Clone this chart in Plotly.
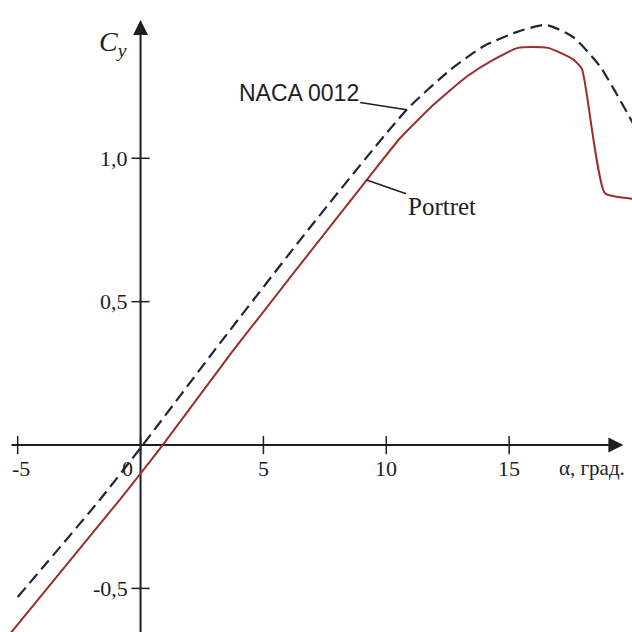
import plotly.graph_objects as go

# ---- data ----
alpha_naca = [-5.0, -1.65, 0.0, 3.24, 7.0, 10.83, 12.6, 13.94, 15.3, 16.5, 17.6, 18.7, 19.9, 20.3]
cy_naca = [-0.53, -0.19, -0.01, 0.356, 0.77, 1.169, 1.308, 1.39, 1.44, 1.465, 1.423, 1.32, 1.144, 1.08]

alpha_portret = [-5.9, -0.84, 0.9, 3.77, 9.2, 10.56, 11.9, 13.28, 14.35, 15.36, 16.58, 17.6, 17.96, 18.9, 19.92, 20.3]
cy_portret = [-0.72, -0.19, 0.0, 0.33, 0.924, 1.07, 1.185, 1.285, 1.343, 1.385, 1.385, 1.345, 1.312, 0.878, 0.86, 0.855]

x_ticks = [-5, 0, 5, 10, 15]
x_tick_labels = ["-5", "0", "5", "10", "15"]
y_ticks = [1.0, 0.5, -0.5]
y_tick_labels = ["1,0", "0,5", "-0,5"]

# view window and axis extents
x_range = [-5.72, 20.0]
y_range = [-0.652, 1.552]
x_axis_span = [-5.25, 19.65]   # x axis line start / arrow tip
y_axis_span = [-0.70, 1.482]   # y axis line start / arrow tip

serif = "Liberation Serif, Times New Roman, serif"
sans = "Liberation Sans, Arial, sans-serif"
ink = "#1e1e1e"

fig = go.Figure()

# axes (lines crossing at the origin) with arrow heads
fig.add_trace(go.Scatter(
    x=[x_axis_span[0], x_axis_span[1] - 0.3], y=[0, 0], mode="lines",
    line=dict(color=ink, width=2), hoverinfo="skip", showlegend=False, cliponaxis=False,
))
fig.add_trace(go.Scatter(
    x=[0, 0], y=[y_axis_span[0], y_axis_span[1] - 0.03], mode="lines",
    line=dict(color=ink, width=2), hoverinfo="skip", showlegend=False,
))
fig.add_trace(go.Scatter(
    x=[x_axis_span[1], 0], y=[0, y_axis_span[1]], mode="markers",
    marker=dict(symbol=["arrow-right", "arrow-up"], size=15, color=ink, line=dict(width=0)),
    hoverinfo="skip", showlegend=False, cliponaxis=False,
))

fig.add_trace(go.Scatter(
    x=alpha_naca, y=cy_naca, mode="lines", name="NACA 0012",
    line=dict(color="#1c2738", width=2.2, dash="12px,6px", shape="spline", smoothing=0.6),
    showlegend=False,
))
fig.add_trace(go.Scatter(
    x=alpha_portret, y=cy_portret, mode="lines", name="Portret",
    line=dict(color="#9a2f2c", width=2, shape="spline", smoothing=0.5),
    showlegend=False,
))

# tick marks
fig.add_trace(go.Scatter(
    x=x_ticks, y=[0] * len(x_ticks), mode="markers", showlegend=False, hoverinfo="skip",
    marker=dict(symbol="line-ns", size=13, line=dict(width=1.5, color=ink)),
))
fig.add_trace(go.Scatter(
    x=[0] * len(y_ticks), y=y_ticks, mode="markers", showlegend=False, hoverinfo="skip",
    marker=dict(symbol="line-ew", size=13, line=dict(width=1.5, color=ink)),
))

annotations = []
# tick labels
for xv, lab in zip(x_ticks, x_tick_labels):
    annotations.append(dict(x=xv, y=0, xref="x", yref="y", text=lab, showarrow=False,
                            xanchor="center", yanchor="middle", yshift=-23,
                            xshift=-13 if xv == 0 else (3 if xv == -5 else 0),
                            font=dict(family=serif, size=22, color=ink)))
for yv, lab in zip(y_ticks, y_tick_labels):
    annotations.append(dict(x=0, y=yv, xref="x", yref="y", text=lab, showarrow=False,
                            xanchor="right", yanchor="middle", xshift=-11,
                            font=dict(family=serif, size=22, color=ink)))

# axis titles
annotations.append(dict(x=16.95, y=0, xref="x", yref="y", text="α, град.", showarrow=False,
                        xanchor="left", yanchor="middle", yshift=-23,
                        font=dict(family=serif, size=21, color=ink)))
annotations.append(dict(x=0, y=1.40, xref="x", yref="y", text="<i>C</i><sub><i>y</i></sub>",
                        showarrow=False, xanchor="right", yanchor="middle", xshift=-12,
                        font=dict(family=serif, size=28, color=ink)))

# curve labels with leader lines
annotations.append(dict(x=10.83, y=1.169, xref="x", yref="y", text="NACA 0012", showarrow=True,
                        ax=-108, ay=-17, arrowhead=0, arrowwidth=1.5, arrowcolor=ink, standoff=0,
                        font=dict(family=sans, size=23, color=ink)))
annotations.append(dict(x=9.2, y=0.924, xref="x", yref="y", text="Portret", showarrow=True,
                        ax=75, ay=26, arrowhead=0, arrowwidth=1.5, arrowcolor=ink, standoff=0,
                        font=dict(family=serif, size=25, color=ink)))

fig.update_layout(
    width=632, height=632,
    margin=dict(l=0, r=0, t=0, b=0),
    paper_bgcolor="white", plot_bgcolor="white",
    xaxis=dict(range=x_range, visible=False, fixedrange=True),
    yaxis=dict(range=y_range, visible=False, fixedrange=True),
    annotations=annotations,
    showlegend=False,
)

fig.write_html("out.html", config={"displayModeBar": False},
               post_script="document.body.style.margin='0';document.body.style.overflow='hidden';")
